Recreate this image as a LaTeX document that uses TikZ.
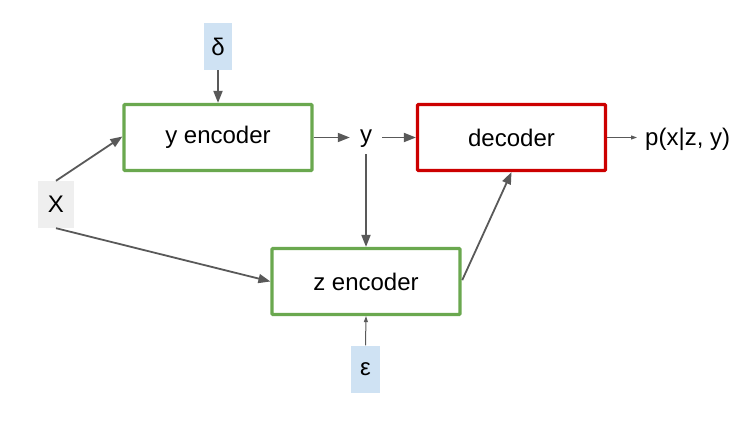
\documentclass[tikz,border=0pt]{standalone}
\usepackage{fontspec}
\setmainfont{Liberation Sans}
\usetikzlibrary{arrows.meta}
\definecolor{encgreen}{HTML}{6AA84F}
\definecolor{decred}{HTML}{CC0000}
\definecolor{noiseblue}{HTML}{CFE2F3}
\definecolor{inputgray}{HTML}{EFEFEF}
\definecolor{wire}{HTML}{595959}
\begin{document}
\begin{tikzpicture}[x=1pt,y=-1pt,
  every node/.style={font=\fontsize{24}{28}\selectfont, inner sep=0pt},
  block/.style={draw, line width=3.2pt, rounded corners=1pt, fill=white,
    minimum width=188pt, minimum height=66pt},
  encbox/.style={block, draw=encgreen},
  decbox/.style={block, draw=decred},
  noisebox/.style={fill=noiseblue, minimum width=28pt, minimum height=47pt},
  inbox/.style={fill=inputgray, minimum width=36pt, minimum height=47pt},
  link/.style={draw=wire, line width=1.8pt, -{Triangle[length=12pt,width=9pt]}},
  thinlink/.style={draw=wire, line width=1pt, -{Triangle[length=6pt,width=4pt]}}]
  \useasboundingbox (0,0) rectangle (746,427);

  % blocks
  \node[encbox] (yenc) at (218,137.5) {y encoder};
  \node[decbox] (dec) at (511.5,137.5) {decoder};
  \node[encbox] (zenc) at (366,281.5) {z encoder};

  % inputs and noise sources
  \node[noisebox] (delta) at (218,46.5) {δ};
  \node[noisebox, minimum width=29pt] (eps) at (365.5,369) {ε};
  \node[inbox] (x) at (56,204.5) {X};

  % intermediate and output labels
  \node[inner xsep=10pt, inner ysep=6pt] (y) at (366,139) {y};
  \node[anchor=west] (out) at (645,139) {p(x|z, y)};

  % connectors
  \draw[link] (delta.south) -- (yenc.north);
  \draw[link] (x.north) -- ([yshift=1pt]yenc.west);
  \draw[link] (x.south) -- (zenc.west);
  \draw[link] (yenc.east) -- (yenc.east -| y.west);
  \draw[link] (dec.west -| y.east) -- (dec.west);
  \draw[link] (y.south) -- (zenc.north);
  \draw[link, shorten <=1.5pt] (zenc.east) -- (dec.south);
  \draw[thinlink] (eps.north) -- (zenc.south);
  \draw[thinlink, shorten >=8pt] (dec.east) -- (dec.east -| out.west);
\end{tikzpicture}
\end{document}
